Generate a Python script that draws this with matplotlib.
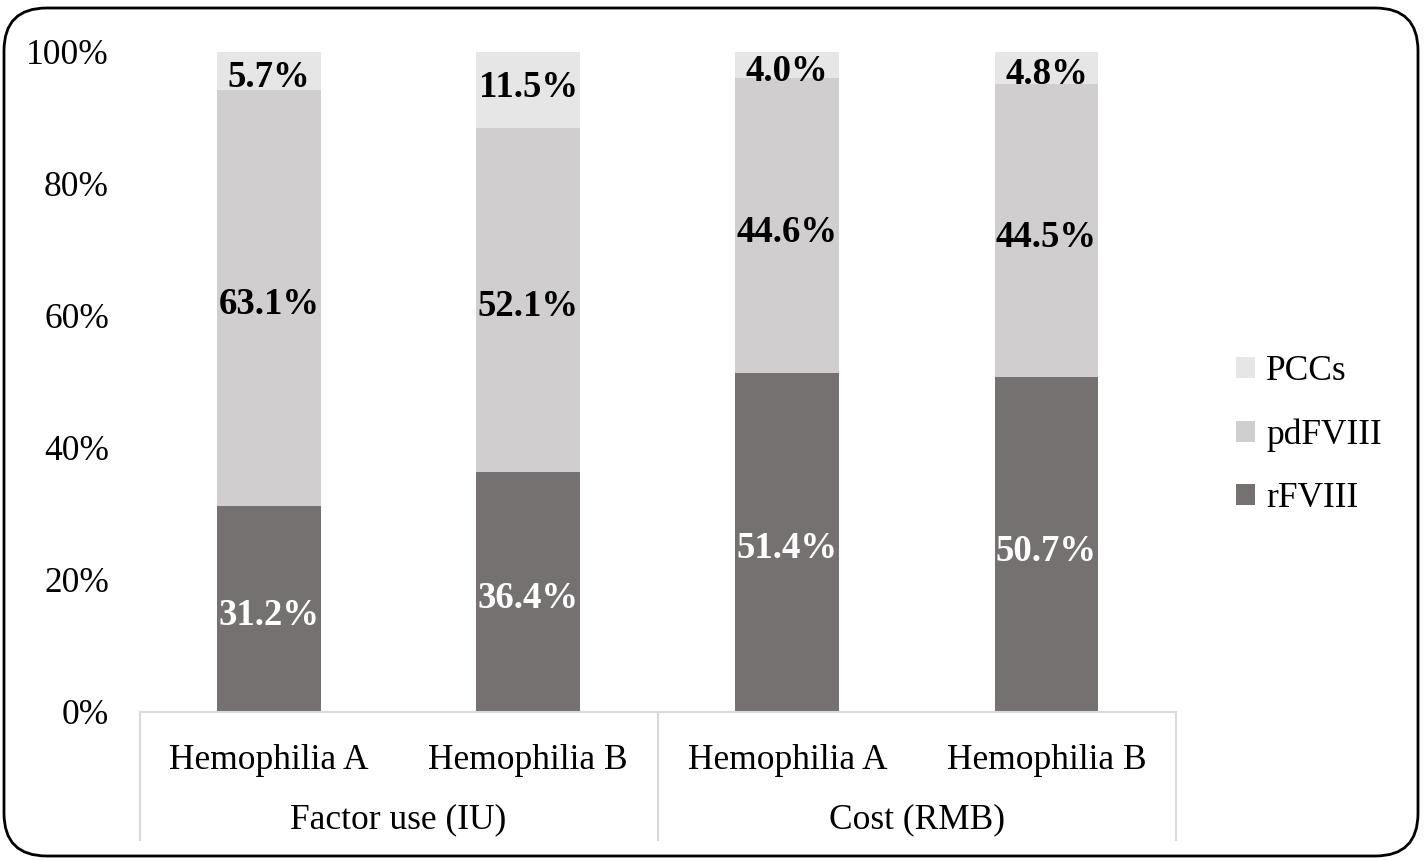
import numpy as np
from matplotlib import pyplot as plt
from matplotlib.patches import FancyBboxPatch
from matplotlib.lines import Line2D

plt.rcParams["font.family"] = ["Liberation Serif", "DejaVu Serif"]

groups = ["Factor use (IU)", "Cost (RMB)"]
categories = ["Hemophilia A", "Hemophilia B", "Hemophilia A", "Hemophilia B"]
series = ["rFVIII", "pdFVIII", "PCCs"]
rfviii = [31.2, 36.4, 51.4, 50.7]
pdfviii = [63.1, 52.1, 44.6, 44.5]
pccs = [5.7, 11.5, 4.0, 4.8]
colors = ["#767171", "#D0CECE", "#E7E6E6"]
label_colors = ["white", "black", "black"]

fig = plt.figure(figsize=(14.24, 8.6), dpi=100)
W, H = 1424, 860
ax = fig.add_axes([139.5 / W, (H - 712) / H, (1176 - 139.5) / W, 660 / H])

x = np.arange(len(categories))
bottom = np.zeros(len(categories))
handles = []
for vals, col, lc, name in zip([rfviii, pdfviii, pccs], colors, label_colors, series):
    vals = np.array(vals)
    bars = ax.bar(x, vals, width=0.4, bottom=bottom, color=col, label=name)
    handles.append(bars)
    for xi, b, v in zip(x, bottom, vals):
        yc = b + v / 2 - 1.0
        if name == "PCCs" and v > 10:
            yc += 1.3  # label sits a little above the segment centre here
        ax.text(xi, yc, f"{v:.1f}%", ha="center", va="center", color=lc,
                fontsize=26.5, fontweight="bold")
    bottom += vals

ax.set_xlim(-0.5, 3.5)
ax.set_ylim(0, 100)
ax.set_yticks(np.arange(0, 101, 20))
ax.set_yticklabels([f"{v}%" for v in range(0, 101, 20)], fontsize=25.5)
ax.tick_params(axis="y", length=0, pad=22)
ax.set_xticks([])
for s in ["top", "right", "left"]:
    ax.spines[s].set_visible(False)
ax.spines["bottom"].set_color("#D9D9D9")
ax.spines["bottom"].set_linewidth(1.5)

# two-level category axis
tr = ax.get_xaxis_transform()
for xi, cat in zip(x, categories):
    ax.text(xi, -0.074, cat, transform=tr, ha="center", va="center", fontsize=25.5)
for gi, g in enumerate(groups):
    ax.text(gi * 2 + 0.5, -0.163, g, transform=tr, ha="center", va="center", fontsize=25.5)
for xs in [-0.5, 1.5, 3.5]:
    ax.add_line(Line2D([xs, xs], [0, -0.194], transform=tr, color="#D9D9D9", lw=1.5, clip_on=False))

leg = fig.legend(handles[::-1], series[::-1], loc="center left",
                 bbox_to_anchor=(1204 / W, 1 - 435 / H), frameon=False, fontsize=25.5,
                 handlelength=0.55, handleheight=0.55, handletextpad=0.3, labelspacing=0.85)

# rounded outer frame
frame = FancyBboxPatch((4 / W, 4 / H), 1414 / W, 848 / H,
                       boxstyle="round,pad=0,rounding_size=0.03",
                       transform=fig.transFigure, fill=False, ec="black", lw=2,
                       mutation_aspect=W / H)
fig.patches.append(frame)

plt.savefig("out.png", dpi=100)
